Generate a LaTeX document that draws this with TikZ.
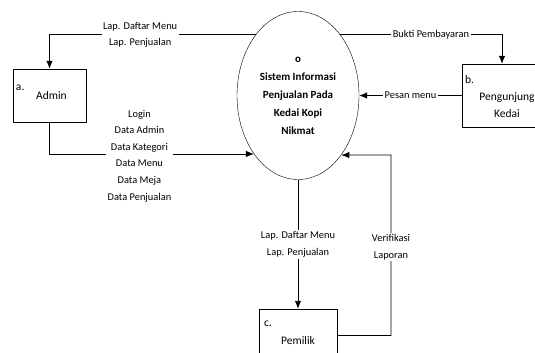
\documentclass[tikz,border=0pt]{standalone}
\usepackage{fontspec}
\setmainfont{Carlito}
\usetikzlibrary{shapes.geometric, positioning, arrows.meta}

\begin{document}
\begin{tikzpicture}[
			x=1pt, y=-1pt,
			nodes = {
				align = center
			},
			process/.style={
				ellipse,
				draw=black,
				minimum width=122pt,
				minimum height=168pt,
				inner sep=0pt,
				font=\fontsize{11}{18}\selectfont\bfseries
			},
			entity/.style={
				draw,
				rectangle,
				minimum height=53pt,
				font=\fontsize{11.5}{17}\selectfont
			},
			num/.style={
				anchor=west,
				inner sep=0pt,
				font=\fontsize{11.5}{14}\selectfont
			},
			lbl/.style={
				fill=white,
				inner sep=1.5pt,
				font=\fontsize{10.4}{16.6}\selectfont
			},
			lines/.style={
				line width=0.9pt,
				-{Latex[length=8pt,width=6.5pt]}
			}
		]
			\useasboundingbox (0,0) rectangle (535,353);

			\node[process] (sis) at (298,95.5) {o\\Sistem Informasi\\Penjualan Pada\\Kedai Kopi\\Nikmat};

			\node[entity, minimum width=73pt] (admin) at (49.5,95.5) {\hspace{4pt}Admin};
			\node[entity, minimum width=80pt, minimum height=63pt] (pengunjung) at (502,95.5) {};
			\node[entity, minimum width=78pt, text height=18pt] (pemilik) at (298,335.5) {Pemilik};

			\node[font=\fontsize{11.5}{17}\selectfont] (pengunjung-txt) at (507,105) {Pengunjung\\Kedai};

			\node[num] (admin-no) at ([xshift=3pt,yshift=-19pt]admin.north west) {a.};
			\node[num] (pengunjung-no) at ([xshift=3pt,yshift=-16pt]pengunjung.north west) {b.};
			\node[num] (pemilik-no) at ([xshift=5pt,yshift=-15pt]pemilik.north west) {c.};

			\coordinate (verif-up) at (391,155);

			\draw[lines] (sis.125) -| node[lbl, pos=0.28] (lap-admin) {Lap. Daftar Menu\\Lap. Penjualan} (admin);
			\draw[lines] (admin) |- node[lbl, pos=0.72, yshift=-2pt] (data-admin) {Login\\Data Admin\\Data Kategori\\Data Menu\\Data Meja\\Data Penjualan} (sis.233);

			\draw[lines] (sis.55) -| node[lbl, pos=0.28] (bukti) {Bukti Pembayaran} (pengunjung);
			\draw[lines] (pengunjung) -- node[lbl] (pesan) {Pesan menu} (sis);

			\draw[lines] (sis) -- node[lbl] (lap-pemilik) {Lap. Daftar Menu\\Lap. Penjualan} (pemilik);
			\draw[lines] (pemilik) -| node[lbl, pos=0.745] (verif) {Verifikasi\\Laporan} (verif-up) -- (sis.306);

		\end{tikzpicture}
\end{document}
